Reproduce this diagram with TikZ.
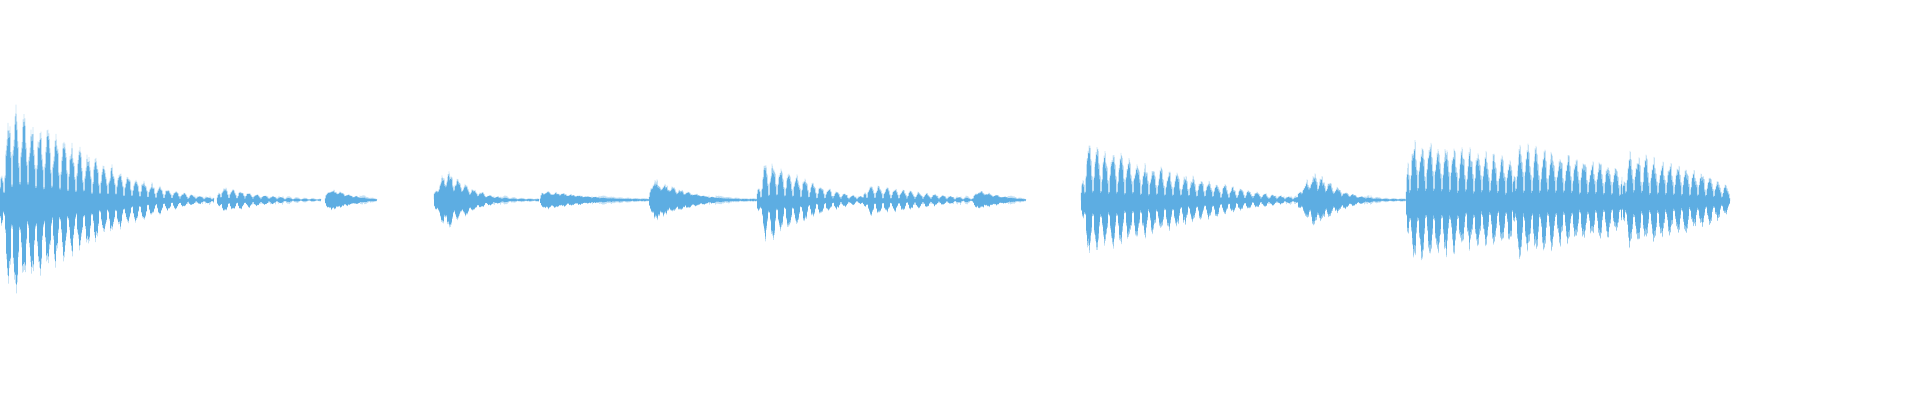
\documentclass[tikz,border=0pt]{standalone}
\begin{document}
\begin{tikzpicture}[x=1pt,y=1pt]
\definecolor{wavec}{RGB}{93,173,226}
\tikzset{wave/.style={draw=wavec,line width=0.45pt,line join=miter}}
\useasboundingbox (0,0) rectangle (1920,400);
\pgfmathsetseed{7}
% #1 x0, #2 len, #3 peak amp, #4 end amp, #5 attack, #6 pulse depth, #7 decay power
\newcommand\wseg[7]{%
 \draw[wave] plot[domain=0:2*#2, samples=2*#2+1, variable=\t]
  ({#1+\t/2},{200+(1-2*mod(round(\t),2))*(#4+(#3-#4)*(1-\t/2/#2)^#7)*min(1,0.15+\t/2/#5)*(1-#6+#6*abs(cos(mod(\t*11.25,360))))*(0.75+0.25*rnd)});
}
\wseg{0}{214}{110}{3}{12}{0.8}{1.6}
\wseg{217}{104}{16}{1}{4}{0.8}{2}
\wseg{325}{52}{14}{1}{4}{0.3}{1.5}
\wseg{434}{105}{48}{1}{16}{0.5}{3}
\wseg{540}{109}{11}{1}{3}{0.3}{2}
\wseg{649}{108}{25}{1}{5}{0.3}{2.5}
\wseg{757}{106}{52}{4}{10}{0.85}{1.5}
\wseg{863}{110}{18}{2}{4}{0.85}{1.2}
\wseg{973}{53}{12}{1}{4}{0.3}{1.5}
\wseg{1081}{217}{62}{3}{6}{0.8}{1.4}
\wseg{1298}{108}{50}{1}{22}{0.5}{3}
\wseg{1406}{106}{66}{45}{3}{0.8}{1}
\wseg{1512}{110}{62}{35}{5}{0.8}{1}
\wseg{1622}{108}{52}{10}{5}{0.8}{0.6}
\end{tikzpicture}
\end{document}
